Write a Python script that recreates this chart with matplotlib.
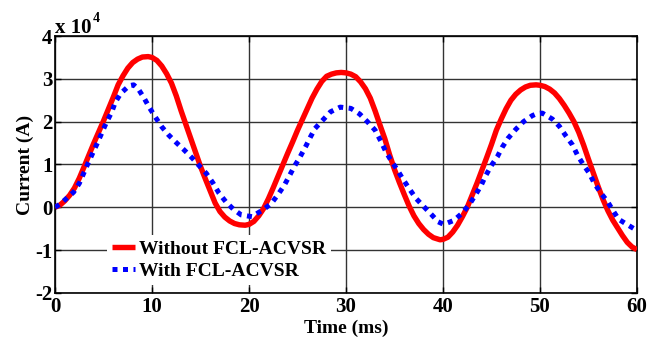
#!/usr/bin/env python3
"""Fault current with and without FCL-ACVSR."""
import numpy as np
import matplotlib
matplotlib.use('Agg')
import matplotlib.pyplot as plt

plt.rcParams.update({
    'font.family': 'Liberation Serif',
    'font.weight': 'bold',
    'font.size': 14,
    'xtick.labelsize': 15,
    'ytick.labelsize': 15,
    'axes.unicode_minus': False,
})

# time (ms) and current (x 10^4 A)
t_red = [0, 0.5, 1, 1.5, 2, 2.5, 3, 4, 5, 6, 6.5, 7, 7.5, 8, 8.5, 9, 9.6, 10, 10.5, 11, 11.5,
         12, 12.5, 13, 14, 15, 15.5, 16, 16.5, 17, 17.5, 18, 18.5, 19, 19.6,
         20, 20.5, 21, 21.5, 22, 22.5, 23, 23.5, 24, 24.5, 25, 25.5, 26, 26.5, 27, 27.5,
         28, 28.5, 29, 29.5, 30, 30.5, 31, 31.5, 32, 32.5, 33, 33.5, 34, 34.5, 35, 35.5,
         36, 36.5, 37, 37.5, 38, 38.5, 39, 39.7,
         40, 40.5, 41, 41.5, 42, 42.5, 43, 43.5, 44, 44.5, 45, 45.5, 46, 46.5, 47, 47.5,
         48, 48.5, 49, 49.6, 50, 50.5, 51, 51.5, 52, 52.5, 53, 53.5, 54, 54.5, 55, 55.5,
         56, 56.5, 57, 57.5, 58, 58.5, 59, 59.5, 60]
i_red = [0.0, 0.05, 0.15, 0.28, 0.45, 0.68, 0.95, 1.5, 2.02, 2.57, 2.86, 3.07, 3.25, 3.38, 3.46, 3.51, 3.52, 3.5, 3.43, 3.3, 3.12,
         2.9, 2.6, 2.25, 1.6, 0.95, 0.66, 0.38, 0.1, -0.1, -0.23, -0.32, -0.38, -0.41, -0.42,
         -0.40, -0.33, -0.2, -0.03, 0.2, 0.46, 0.73, 1.0, 1.27, 1.53, 1.8, 2.05, 2.3, 2.55, 2.76, 2.94,
         3.06, 3.11, 3.14, 3.15, 3.14, 3.11, 3.05, 2.93, 2.77, 2.55, 2.25, 1.92, 1.6, 1.22, 0.88, 0.58,
         0.3, 0.03, -0.2, -0.38, -0.52, -0.63, -0.71, -0.76,
         -0.75, -0.7, -0.58, -0.42, -0.22, 0.0, 0.28, 0.56, 0.86, 1.16, 1.47, 1.8, 2.06, 2.3, 2.5, 2.64,
         2.74, 2.81, 2.85, 2.86, 2.85, 2.82, 2.76, 2.67, 2.54, 2.38, 2.2, 2.0, 1.75, 1.45, 1.12, 0.8,
         0.48, 0.18, -0.08, -0.3, -0.48, -0.66, -0.82, -0.93, -0.99]

t_blue = [0, 0.5, 1.0, 1.9, 2.5, 3.4, 4.36, 5.25, 5.85, 6.2, 6.77, 7.63, 8.1, 8.59, 9.18, 9.72,
          10.3, 11.0, 11.7, 12.5, 13.3, 14.1, 14.9, 15.6, 16.3, 16.9, 17.6, 18.4, 19.2,
          20.3, 21.0, 21.45, 22.3, 23.0, 23.65, 24.15, 24.66, 25.27, 25.84, 26.35, 26.8, 27.66,
          28.4, 29.4, 30.5, 31.4, 32.2, 33.0, 33.6, 34.1, 34.7, 35.3, 35.8, 36.5, 37.2, 38.0,
          38.85, 39.5, 40.07, 41.1, 41.97, 42.76, 43.35, 43.93, 44.38, 44.97, 45.6, 46.1, 46.7,
          47.5, 48.3, 49.2, 49.7, 50.24, 51.28, 52.0, 52.66, 53.34, 53.86, 54.48, 55.07, 55.6,
          56.28, 56.97, 57.48, 58.1, 59.03, 59.9, 60]
i_blue = [0.0, 0.07, 0.17, 0.35, 0.56, 1.03, 1.5, 1.96, 2.23, 2.45, 2.66, 2.84, 2.86, 2.76, 2.55, 2.33,
          2.12, 1.88, 1.69, 1.51, 1.34, 1.16, 0.96, 0.79, 0.56, 0.33, 0.13, -0.05, -0.18,
          -0.22, -0.12, -0.06, 0.09, 0.30, 0.52, 0.73, 0.95, 1.18, 1.42, 1.65, 1.84, 2.05,
          2.23, 2.34, 2.31, 2.18, 2.0, 1.8, 1.54, 1.30, 1.07, 0.87, 0.68, 0.44, 0.21, 0.02,
          -0.18, -0.34, -0.40, -0.31, -0.14, 0.08, 0.29, 0.51, 0.73, 0.97, 1.18, 1.40, 1.61,
          1.82, 2.0, 2.14, 2.19, 2.2, 2.06, 1.89, 1.67, 1.46, 1.22, 0.99, 0.80, 0.56,
          0.33, 0.13, -0.06, -0.28, -0.41, -0.53, -0.54]

x_ticks = [0, 10, 20, 30, 40, 50, 60]
y_ticks = [-2, -1, 0, 1, 2, 3, 4]

fig = plt.figure(figsize=(6.48, 3.37), dpi=100)
ax = fig.add_axes([0.085, 0.131, 0.898, 0.762])

ax.plot(t_red, i_red, color='#FF0000', lw=3.9, solid_capstyle='butt',
        solid_joinstyle='round', label='Without FCL-ACVSR', zorder=3)
ax.plot(t_blue, i_blue, color='#0000FF', lw=3.6, linestyle=(0, (1, 1.1)),
        dash_capstyle='butt', label='With FCL-ACVSR', zorder=4)

ax.set_xlim(0, 60)
ax.set_ylim(-2, 4)
ax.set_xticks(x_ticks)
ax.set_yticks(y_ticks)
ax.grid(True, color='#333333', lw=1.0)
ax.tick_params(axis='x', direction='in', top=True, length=4, width=1, pad=3)
ax.tick_params(axis='y', direction='in', right=True, length=4, width=1, pad=2)
for sp in ax.spines.values():
    sp.set_linewidth(1.2)

ax.set_xlabel('Time (ms)', fontweight='bold', labelpad=2)
ax.set_ylabel('Current (A)', fontweight='bold', labelpad=1)

ax.text(0.0, 1.012, 'x 10', transform=ax.transAxes, fontsize=15,
        fontweight='bold', ha='left', va='baseline')
ax.text(0.064, 1.054, '4', transform=ax.transAxes, fontsize=10,
        fontweight='bold', ha='left', va='baseline')

leg = ax.legend(loc='lower left', bbox_to_anchor=(0.073, -0.007), frameon=True,
                fancybox=False, edgecolor='none', framealpha=1,
                handlelength=1.15, handletextpad=0.25, borderpad=0.25,
                labelspacing=0.25, fontsize=14)
leg.set_zorder(5)

fig.savefig('out.png', dpi=100)
plt.close(fig)
